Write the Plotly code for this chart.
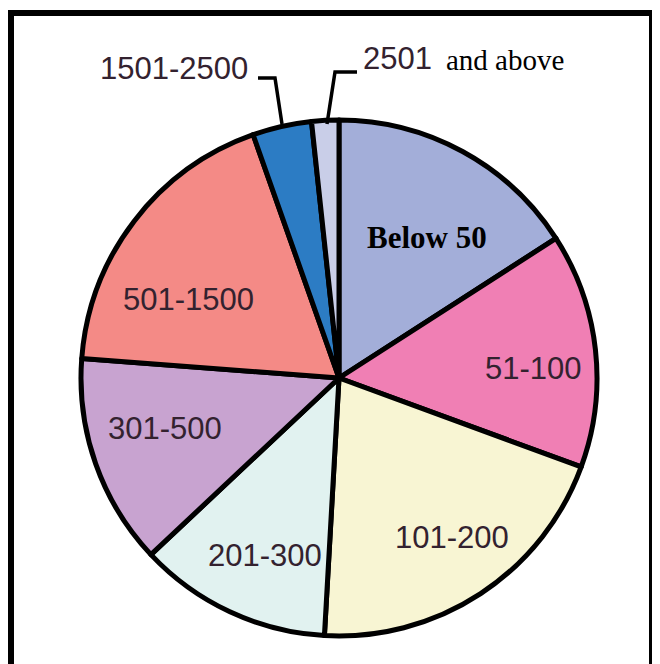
import plotly.graph_objects as go

categories = ["Below 50", "51-100", "101-200", "201-300", "301-500",
              "501-1500", "1501-2500", "2501 and above"]
values = [15.9, 14.7, 20.3, 12.1, 13.2, 18.4, 3.7, 1.7]
colors = ["#a3aed9", "#f07fb4", "#f8f5d3", "#e1f2f0", "#c8a3d0",
          "#f48a86", "#2c7cc4", "#c9cee8"]

W, H = 660, 664
OFF = 8  # page body margin
def px(x):
    return (x - OFF) / W
def py(y):
    return 1 - (y - OFF) / H

cx, cy, R = 339, 378, 258

fig = go.Figure(go.Pie(
    labels=categories, values=values, sort=False, direction="clockwise",
    rotation=0, textinfo="none", hoverinfo="label+percent",
    marker=dict(colors=colors, line=dict(color="black", width=5)),
    domain=dict(x=[px(cx - R), px(cx + R)], y=[py(cy + R), py(cy - R)]),
    showlegend=False,
))

sans = dict(family="Liberation Sans, Arial, sans-serif", size=31, color="#33222f")
serif_b = dict(family="Liberation Serif, Times New Roman, serif", size=31, color="black", weight="bold")
serif = dict(family="Liberation Serif, Times New Roman, serif", size=29, color="black")

labels_pos = [
    ("<b>Below 50</b>", 427, 238, serif_b),
    ("51-100", 533, 368, sans),
    ("101-200", 452, 537, sans),
    ("201-300", 265, 555, sans),
    ("301-500", 165, 428, sans),
    ("501-1500", 188, 300, sans),
    ("1501-2500", 174, 68, sans),
    ("2501", 397, 58, sans),
    ("and above", 505, 60, serif),
]
annotations = []
for text, x, y, font in labels_pos:
    annotations.append(dict(text=text, x=px(x), y=py(y), xref="paper", yref="paper",
                            showarrow=False, font=font, xanchor="center", yanchor="middle"))

def path(points):
    return "M " + " L ".join(f"{px(x)},{py(y)}" for x, y in points)

shapes = [
    dict(type="path", xref="paper", yref="paper",
         path=path([(258, 78), (275, 78), (282, 124)]),
         line=dict(color="black", width=3.5)),
    dict(type="path", xref="paper", yref="paper",
         path=path([(327, 124), (335, 72), (357, 72)]),
         line=dict(color="black", width=3.5)),
    dict(type="rect", xref="paper", yref="paper",
         x0=px(11), x1=px(652), y0=py(13), y1=-0.05,
         line=dict(color="black", width=6)),
]

fig.update_layout(
    width=W, height=H, margin=dict(l=0, r=0, t=0, b=0),
    paper_bgcolor="white", plot_bgcolor="white",
    annotations=annotations, shapes=shapes,
)
fig.write_html("out.html")
